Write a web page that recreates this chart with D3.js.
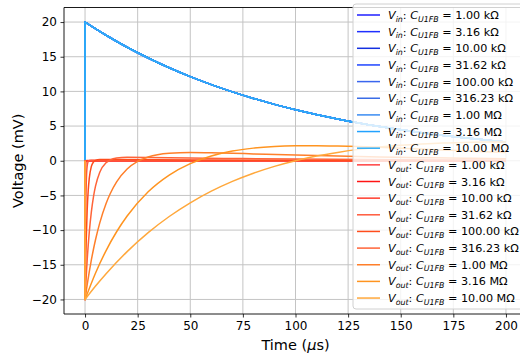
<!DOCTYPE html>
<html>
<head>
<meta charset="utf-8">
<script src="https://cdn.jsdelivr.net/npm/d3@7"></script>
<style>
body { margin: 0; background: #fff; }
svg { font-family: "DejaVu Sans", sans-serif; }
</style>
</head>
<body>
<svg width="520" height="356"></svg>
<script>
// resistor labels, one per simulated value
var resistances = ["1.00 kΩ", "3.16 kΩ", "10.00 kΩ", "31.62 kΩ", "100.00 kΩ",
                   "316.23 kΩ", "1.00 MΩ", "3.16 MΩ", "10.00 MΩ"];

var xTicks = [0, 25, 50, 75, 100, 125, 150, 175, 200];
var yTicks = [-20, -15, -10, -5, 0, 5, 10, 15, 20];

// input pulse, [time (us), voltage (mV)] - the same for every resistor
var vin = [[0,0],[0,20],[10,18.1],[20,16.37],[30,14.82],[40,13.41],[50,12.13],[60,10.98],
           [70,9.93],[80,8.99],[90,8.13],[100,7.36],[120,6.02],[140,4.93],[160,4.04],
           [180,3.31],[200,2.71]];

// output, [time (us), voltage (mV)]
var vout1k = [[0,0],[0,-20],[0.01,-7.36],[0.02,-2.7],[0.03,-1.0],[0.05,-0.13],[0.1,0],[200,0]];
var vout3k = [[0,0],[0,-20],[0.02,-10.63],[0.05,-4.11],[0.1,-0.84],[0.15,-0.17],[0.2,0],[200,0.01]];
var vout10k = [[0,0],[0,-20],[0.05,-12.14],[0.1,-7.35],[0.2,-2.69],[0.3,-0.98],[0.5,-0.1],
               [0.8,0.02],[50,0.01],[200,0.003]];
var vout31k = [[0,0],[0,-20],[0.1,-14.56],[0.2,-10.6],[0.4,-5.6],[0.6,-2.95],[1,-0.79],[1.5,-0.11],
               [2,0.03],[3,0.06],[50,0.04],[100,0.02],[200,0.01]];
var vout100k = [[0,0],[0,-20],[0.25,-15.53],[0.5,-12.05],[1,-7.23],[1.5,-4.31],[2,-2.54],[3,-0.81],
                [4,-0.18],[5,0.06],[7,0.17],[10,0.18],[50,0.12],[100,0.07],[150,0.05],[200,0.03]];
var vout316k = [[0,0],[0,-20],[0.5,-16.98],[1,-14.4],[2,-10.33],[3,-7.36],[4,-5.2],[5,-3.63],
                [7,-1.65],[10,-0.28],[12,0.11],[15,0.38],[20,0.5],[30,0.48],[50,0.4],[75,0.31],
                [100,0.24],[150,0.15],[200,0.09]];
var vout1M = [[0,0],[0,-20],[1,-17.91],[2,-16.02],[3,-14.31],[4,-12.76],[5,-11.36],[7,-8.96],
              [10,-6.16],[12,-4.72],[15,-3.05],[20,-1.19],[25,-0.09],[30,0.54],[40,1.08],[50,1.2],
              [60,1.16],[70,1.08],[80,0.99],[100,0.82],[120,0.67],[140,0.55],[160,0.45],
              [180,0.37],[200,0.3]];
var vout3M = [[0,0],[0,-20],[5,-16.18],[10,-12.95],[15,-10.24],[20,-7.97],[30,-4.47],[40,-2.06],
              [50,-0.41],[60,0.69],[70,1.4],[80,1.82],[90,2.06],[100,2.16],[110,2.18],[120,2.13],
              [130,2.04],[140,1.93],[150,1.81],[160,1.68],[170,1.55],[180,1.43],[190,1.31],[200,1.2]];
var vout10M = [[0,0],[0,-20],[5,-18.07],[10,-16.29],[20,-13.1],[30,-10.37],[40,-8.04],[50,-6.07],
               [60,-4.39],[70,-2.98],[80,-1.8],[90,-0.81],[100,0],[110,0.67],[120,1.2],[130,1.64],
               [140,1.97],[150,2.23],[160,2.42],[170,2.56],[180,2.64],[190,2.69],[200,2.71]];

var vinColors = ["#1f1fff", "#1f30ff", "#1430e0", "#1f45ff", "#3a66ee",
                 "#3a6ce6", "#3a8cf2", "#22a2ff", "#30acf6"];
var voutColors = ["#ff4040", "#ff1414", "#ff3c2c", "#ff5a3c", "#ff4c1c",
                  "#ff6438", "#ff7f2a", "#ff9420", "#ffa83c"];

var series = [];
resistances.forEach(function(r, i) {
    series.push({name: "in", res: r, color: vinColors[i], values: vin});
});
[vout1k, vout3k, vout10k, vout31k, vout100k, vout316k, vout1M, vout3M, vout10M].forEach(function(v, i) {
    series.push({name: "out", res: resistances[i], color: voutColors[i], values: v});
});

var svg = d3.select("svg");
var pLeft = 64, pRight = 527, pTop = 7.5, pBottom = 314;

var x = d3.scaleLinear().domain([-10, 210]).range([pLeft, pRight]);
var y = d3.scaleLinear().domain([-22.1, 22.1]).range([pBottom, pTop]);

svg.append("defs").append("clipPath").attr("id", "plotclip")
  .append("rect").attr("x", pLeft).attr("y", pTop)
  .attr("width", pRight - pLeft).attr("height", pBottom - pTop);

// grid
var grid = svg.append("g").attr("stroke", "#c4c4c4").attr("stroke-width", 1);
xTicks.forEach(function(t) {
    grid.append("line").attr("x1", x(t)).attr("x2", x(t)).attr("y1", pTop).attr("y2", pBottom);
});
yTicks.forEach(function(t) {
    grid.append("line").attr("x1", pLeft).attr("x2", pRight).attr("y1", y(t)).attr("y2", y(t));
});

// curves: straight step at t=0, then a smooth curve through the rest
var line = d3.line()
    .x(function(d) { return x(d[0]); })
    .y(function(d) { return y(d[1]); })
    .curve(d3.curveMonotoneX);

function curvePath(v) {
    var rest = line(v.slice(1));
    return "M" + x(v[0][0]) + "," + y(v[0][1]) + "L" + rest.slice(1);
}

svg.append("g").attr("clip-path", "url(#plotclip)")
  .selectAll("path").data(series).enter().append("path")
    .attr("d", function(d) { return curvePath(d.values); })
    .attr("fill", "none")
    .attr("stroke", function(d) { return d.color; })
    .attr("stroke-width", 1.5)
    .attr("stroke-linejoin", "round");

// axes
var fmt = function(d) { return d < 0 ? "\u2212" + Math.abs(d) : d; };
var xAxis = svg.append("g").attr("transform", "translate(0," + pBottom + ")")
    .call(d3.axisBottom(x).tickValues(xTicks).tickSize(3.5).tickPadding(3.5).tickFormat(fmt));
var yAxis = svg.append("g").attr("transform", "translate(" + pLeft + ",0)")
    .call(d3.axisLeft(y).tickValues(yTicks).tickSize(3.5).tickPadding(3.5).tickFormat(fmt));
[xAxis, yAxis].forEach(function(a) {
    a.select(".domain").remove();
    a.selectAll("text").attr("font-family", "DejaVu Sans").attr("font-size", 12).attr("fill", "#000");
    a.selectAll("line").attr("stroke", "#000").attr("stroke-width", 0.8);
});

// spines
svg.append("line").attr("x1", pLeft).attr("x2", pLeft).attr("y1", pTop).attr("y2", pBottom)
   .attr("stroke", "#000").attr("stroke-width", 0.9);
svg.append("line").attr("x1", pLeft).attr("x2", pRight).attr("y1", pBottom).attr("y2", pBottom)
   .attr("stroke", "#000").attr("stroke-width", 0.9);
svg.append("line").attr("x1", pLeft).attr("x2", pRight).attr("y1", pTop).attr("y2", pTop)
   .attr("stroke", "#000").attr("stroke-width", 0.9);

// axis labels
svg.append("text").attr("x", x(100)).attr("y", 350)
   .attr("text-anchor", "middle").attr("font-size", 14.5)
   .html("Time (<tspan font-style='italic'>\u03bc</tspan>s)");
svg.append("text").attr("transform", "translate(18," + y(0) + ") rotate(-90)")
   .attr("text-anchor", "middle").attr("font-size", 14.5).attr("dy", "0.35em")
   .text("Voltage (mV)");

// legend
var lg = svg.append("g").attr("transform", "translate(353,4)");
lg.append("rect").attr("width", 175).attr("height", 305).attr("rx", 3)
  .attr("fill", "#fff").attr("fill-opacity", 0.8)
  .attr("stroke", "#d0d0d0").attr("stroke-width", 1);

var rows = lg.selectAll("g.row").data(series).enter().append("g")
    .attr("transform", function(d, i) { return "translate(0," + (11 + i * 16.65) + ")"; });
rows.append("line").attr("x1", 4).attr("x2", 27)
    .attr("stroke", function(d) { return d.color; }).attr("stroke-width", 1.5);
var txt = rows.append("text").attr("x", 35).attr("dy", "0.36em").attr("font-size", 11.2).attr("fill", "#000");
txt.append("tspan").attr("font-style", "italic").text("V");
txt.append("tspan").attr("font-style", "italic").attr("font-size", 7.9).attr("dy", 2.7)
   .text(function(d) { return d.name; });
txt.append("tspan").attr("dy", -2.7).text(": ");
txt.append("tspan").attr("font-style", "italic").text("C");
txt.append("tspan").attr("font-style", "italic").attr("font-size", 7.9).attr("dy", 2.7).text("U1FB");
txt.append("tspan").attr("dy", -2.7).text(function(d) { return " = " + d.res; });
</script>
</body>
</html>
